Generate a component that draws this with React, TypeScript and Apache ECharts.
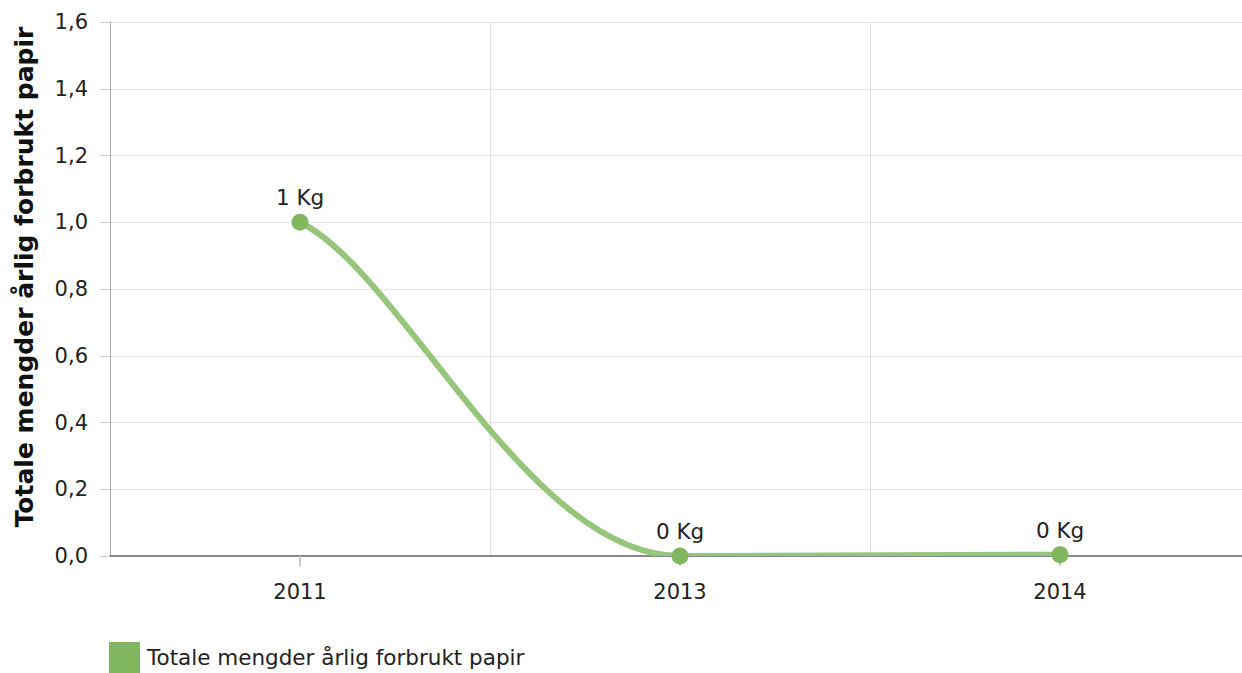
import React, { useEffect, useRef } from "react";
import * as echarts from "echarts";

const categories = ["2011", "2013", "2014"];
const values = [1, 0, 0.004];
const seriesName = "Totale mengder årlig forbrukt papir";
const yAxisTitle = "Totale mengder årlig forbrukt papir";
const yMin = 0;
const yMax = 1.6;
const yStep = 0.2;

const FONT = "DejaVu Sans, Verdana, sans-serif";
const LINE_COLOR = "#97c57c";
const MARKER_COLOR = "#80b65e";

export default function App() {
  const ref = useRef<HTMLDivElement>(null);
  useEffect(() => {
    if (!ref.current) return;
    const chart = echarts.init(ref.current, undefined, { renderer: "svg" });

    const renderCurve = (params: any, api: any) => {
      const i = params.dataIndex;
      const n = values.length;
      const P = (j: number) => api.coord([j, values[j]]);
      const sm = 1.5;
      const den = sm + 1;
      const ctrl = (j: number) => {
        const cur = P(j);
        if (j === 0) {
          const nx = P(1);
          return { right: [cur[0] + (nx[0] - cur[0]) * 0.27, cur[1] + (nx[1] - cur[1]) * 0.15], left: cur };
        }
        if (j === n - 1) {
          const pv = P(j - 1);
          return { left: [cur[0] - (cur[0] - pv[0]) * 0.27, cur[1] - (cur[1] - pv[1]) * 0.15], right: cur };
        }
        const last = P(j - 1);
        const next = P(j + 1);
        let lcx = (sm * cur[0] + last[0]) / den;
        let lcy = (sm * cur[1] + last[1]) / den;
        let rcx = (sm * cur[0] + next[0]) / den;
        let rcy = (sm * cur[1] + next[1]) / den;
        let corr = 0;
        if (rcx !== lcx) corr = ((rcy - lcy) * (rcx - cur[0])) / (rcx - lcx) + cur[1] - rcy;
        lcy += corr;
        rcy += corr;
        if (lcy > last[1] && lcy > cur[1]) {
          lcy = Math.max(last[1], cur[1]);
          rcy = 2 * cur[1] - lcy;
        } else if (lcy < last[1] && lcy < cur[1]) {
          lcy = Math.min(last[1], cur[1]);
          rcy = 2 * cur[1] - lcy;
        }
        if (rcy > next[1] && rcy > cur[1]) {
          rcy = Math.max(next[1], cur[1]);
          lcy = 2 * cur[1] - rcy;
        } else if (rcy < next[1] && rcy < cur[1]) {
          rcy = Math.min(next[1], cur[1]);
          lcy = 2 * cur[1] - rcy;
        }
        return { left: [lcx, lcy], right: [rcx, rcy] };
      };
      const a = P(i);
      const b = P(i + 1);
      const c1 = ctrl(i).right;
      const c2 = ctrl(i + 1).left;
      return {
        type: "bezierCurve",
        shape: { x1: a[0], y1: a[1], x2: b[0], y2: b[1], cpx1: c1[0], cpy1: c1[1], cpx2: c2[0], cpy2: c2[1] },
        style: { stroke: LINE_COLOR, lineWidth: 6, fill: null, lineCap: "round" },
      };
    };

    chart.setOption({
      animation: false,
      textStyle: { fontFamily: FONT },
      grid: { left: 110, right: 10, top: 22, bottom: 117, containLabel: false },
      legend: {
        show: true,
        left: 109,
        top: 642,
        padding: 0,
        itemWidth: 31,
        itemHeight: 31,
        icon: "rect",
        textStyle: { fontSize: 21.5, color: "#222", fontFamily: FONT, padding: [0, 0, 0, 2] },
        data: [seriesName],
      },
      xAxis: {
        type: "category",
        data: categories,
        boundaryGap: true,
        axisLine: { show: true, lineStyle: { color: "#888", width: 2 } },
        axisTick: { show: true, alignWithLabel: true, length: 10, lineStyle: { color: "#ccc", width: 2 } },
        axisLabel: { fontSize: 21, color: "#222", margin: 25, fontFamily: FONT },
        splitLine: { show: true, lineStyle: { color: "#e0e0e0", width: 1 } },
      },
      yAxis: {
        type: "value",
        min: yMin,
        max: yMax,
        interval: yStep,
        name: yAxisTitle,
        nameLocation: "middle",
        nameGap: 73,
        nameTextStyle: {
          fontSize: 25,
          fontWeight: "bold",
          color: "#111",
          fontFamily: FONT,
          padding: [0, 0, 0, 24],
        },
        axisLine: { show: true, lineStyle: { color: "#aaa", width: 1 } },
        axisTick: { show: true, length: 10, lineStyle: { color: "#ccc" } },
        axisLabel: {
          fontSize: 21,
          color: "#222",
          margin: 22,
          fontFamily: FONT,
          formatter: (v: number) => v.toFixed(1).replace(".", ","),
        },
        splitLine: { show: true, lineStyle: { color: "#e6e6e6", width: 1 } },
      },
      series: [
        {
          name: "__curve",
          type: "custom",
          data: values.slice(0, -1).map((v, i) => [i, v]),
          encode: { x: 0, y: 1 },
          renderItem: renderCurve,
          clip: true,
          silent: true,
          z: 2,
        },
        {
          name: seriesName,
          type: "line",
          data: values,
          symbol: "circle",
          symbolSize: 17,
          lineStyle: { width: 0, opacity: 0 },
          itemStyle: { color: MARKER_COLOR },
          label: {
            show: true,
            position: "top",
            distance: 5,
            fontSize: 21.5,
            color: "#222",
            fontFamily: FONT,
            formatter: (p: any) => Math.round(p.value) + " Kg",
          },
          z: 3,
        },
      ],
    });
    return () => chart.dispose();
  }, []);
  return (
    <div style={{ position: "absolute", left: 0, top: 0, width: 1242, height: 673, overflow: "hidden", background: "#fff" }}>
      <div ref={ref} style={{ width: 1260, height: 673 }} />
    </div>
  );
}
